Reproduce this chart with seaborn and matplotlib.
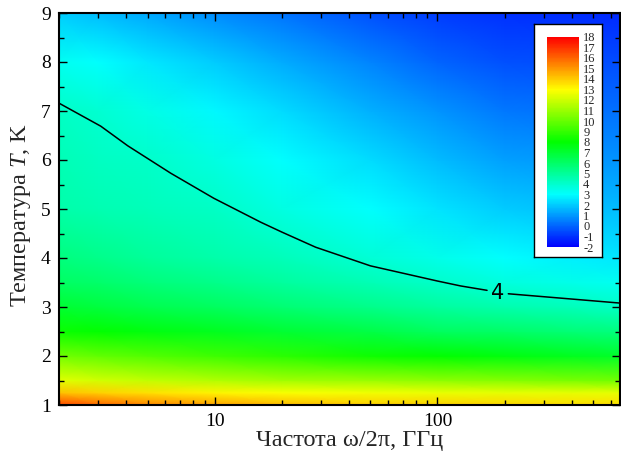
import numpy as np
import matplotlib
matplotlib.use("Agg")
import matplotlib.pyplot as plt
import seaborn as sns
from matplotlib.colors import LinearSegmentedColormap
from matplotlib.ticker import FixedLocator, LogLocator, MultipleLocator, FuncFormatter, NullFormatter

# ---------------- data ----------------
freq_ghz = [2, 3, 5, 10, 20, 50, 100, 200, 400, 660]
temp_k = [1, 1.25, 1.5, 2, 2.5, 3, 3.5, 4, 5, 6, 7, 8, 9]

val_f2 = [16.6, 14.2, 12.4, 10.2, 8.2, 7.0, 6.1, 5.5, 4.7, 4.45, 4.12, 3.3, 2.0]
val_f3 = [16.0, 13.9, 12.1, 9.9, 8.0, 6.8, 5.9, 5.3, 4.55, 4.2, 3.9, 3.0, 1.7]
val_f5 = [15.4, 13.6, 11.8, 9.6, 7.7, 6.5, 5.6, 5.0, 4.35, 4.02, 3.5, 2.6, 1.3]
val_f10 = [14.8, 13.2, 11.5, 9.2, 7.4, 6.2, 5.3, 4.7, 4.1, 3.6, 2.9, 2.0, 0.8]
val_f20 = [14.4, 12.9, 11.2, 8.8, 7.0, 5.8, 4.9, 4.4, 3.6, 3.0, 2.3, 1.4, 0.3]
val_f50 = [14.0, 12.7, 11.0, 8.3, 6.6, 5.3, 4.45, 3.85, 3.0, 2.3, 1.5, 0.6, -0.4]
val_f100 = [13.9, 12.6, 10.8, 8.0, 6.2, 4.9, 4.02, 3.4, 2.5, 1.7, 0.9, 0.0, -0.8]
val_f200 = [13.8, 12.5, 10.6, 7.7, 6.0, 4.6, 3.7, 3.0, 2.0, 1.2, 0.4, -0.4, -1.0]
val_f400 = [13.7, 12.5, 10.4, 7.4, 5.7, 4.35, 3.45, 2.75, 1.8, 1.0, 0.25, -0.5, -1.1]
val_f660 = [13.7, 12.5, 10.2, 7.2, 5.5, 4.15, 3.3, 2.6, 1.7, 0.9, 0.2, -0.5, -1.2]

# level-4 isoline (split where the label sits)
iso_level = 4
iso_a_freq = [2.0, 3.08, 4.07, 6.35, 9.9, 16.1, 20, 28.4, 50, 100, 127, 167]
iso_a_temp = [7.16, 6.69, 6.29, 5.73, 5.22, 4.73, 4.53, 4.22, 3.84, 3.53, 3.43, 3.34]
iso_b_freq = [208, 300, 660]
iso_b_temp = [3.27, 3.21, 3.08]
iso_label_freq = 187
iso_label_temp = 3.29

cbar_ticks = list(range(-2, 19))
x_major_ticks = [10, 100]
y_ticks = [1, 2, 3, 4, 5, 6, 7, 8, 9]

# ---------------- style ----------------
sns.set_theme(style="ticks")
plt.rcParams["font.family"] = ["Liberation Serif", "DejaVu Serif"]
plt.rcParams["mathtext.fontset"] = "custom"
plt.rcParams["mathtext.rm"] = "Liberation Serif"
plt.rcParams["mathtext.it"] = "Liberation Serif:italic"
plt.rcParams["axes.unicode_minus"] = False

cmap = LinearSegmentedColormap.from_list(
    "rainbow5", ["#0000ff", "#00ffff", "#00ff00", "#ffff00", "#ff0000"])

Z = np.array([val_f2, val_f3, val_f5, val_f10, val_f20, val_f50,
              val_f100, val_f200, val_f400, val_f660]).T
FF, TT = np.meshgrid(np.array(freq_ghz, float), np.array(temp_k, float))

W, H = 621, 458
fig = plt.figure(figsize=(W / 100, H / 100), dpi=100)
ax = fig.add_axes([59 / W, 53 / H, 561 / W, 392 / H])
ax.set_axisbelow(False)

pcm = ax.pcolormesh(FF, TT, Z, shading="gouraud", cmap=cmap, vmin=-2, vmax=18)
ax.set_xscale("log")

sns.lineplot(x=iso_a_freq, y=iso_a_temp, ax=ax, color="black", lw=1.1,
             sort=False, estimator=None)
sns.lineplot(x=iso_b_freq, y=iso_b_temp, ax=ax, color="black", lw=1.1,
             sort=False, estimator=None)
ax.text(iso_label_freq, iso_label_temp, f"{iso_level}", ha="center", va="center",
        fontsize=15, fontfamily="DejaVu Sans", color="black")

ax.set_xlim(2, 660)
ax.set_ylim(1, 9)

ax.xaxis.set_major_locator(FixedLocator(x_major_ticks))
ax.xaxis.set_major_formatter(FuncFormatter(lambda v, p: f"{v:g}"))
ax.xaxis.set_minor_locator(LogLocator(base=10, subs=range(2, 10), numticks=20))
ax.xaxis.set_minor_formatter(NullFormatter())
ax.yaxis.set_major_locator(FixedLocator(y_ticks))
ax.yaxis.set_minor_locator(MultipleLocator(0.5))

ax.tick_params(which="both", direction="in", top=True, right=True,
               colors="black", labelsize=14, width=1.0, zorder=5)
ax.tick_params(which="major", length=6, pad=6)
ax.tick_params(which="minor", length=3.5)
for s in ax.spines.values():
    s.set_linewidth(1.5)
    s.set_color("black")
    s.set_zorder(6)

ax.set_xlabel("Частота ω/2π, ГГц", fontsize=17.5)
ax.set_ylabel("Температура $T$, K", fontsize=17.5)
ax.xaxis.set_label_coords((350 - 59) / 561, -0.065)
ax.yaxis.set_label_coords(-0.047, 0.485)

# colorbar inside a white framed box
box = fig.add_axes([534 / W, (H - 257) / H, 68 / W, 233 / H])
box.set_facecolor("white")
box.set_xticks([])
box.set_yticks([])
for s in box.spines.values():
    s.set_linewidth(1.0)
    s.set_color("black")

cax = fig.add_axes([547 / W, (H - 247) / H, 32 / W, 210 / H])
cb = fig.colorbar(pcm, cax=cax, ticks=cbar_ticks)
cb.outline.set_visible(False)
cax.tick_params(length=0, labelsize=9, pad=3)

fig.savefig("out.png", dpi=100)
